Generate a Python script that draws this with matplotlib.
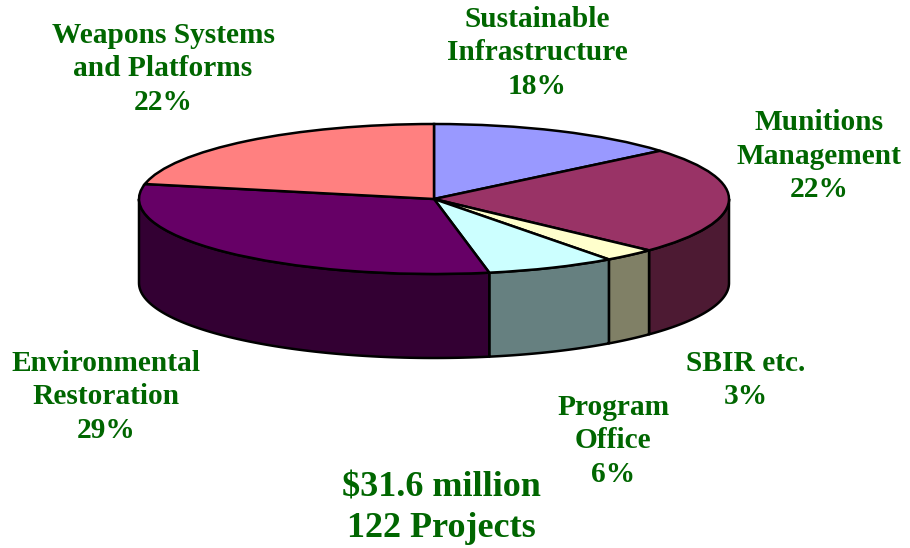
import matplotlib
matplotlib.use("Agg")
import matplotlib.pyplot as plt
import numpy as np

# slice sizes as drawn in the picture (the drawn wedges differ a bit from the printed %)
names = ["Sustainable\nInfrastructure", "Munitions\nManagement", "SBIR etc.",
         "Program\nOffice", "Environmental\nRestoration", "Weapons Systems\nand Platforms"]
printed = ["18%", "22%", "3%", "6%", "29%", "22%"]
drawn = [13.9, 23.1, 2.9, 7.1, 31.2, 21.8]
top_colors = ["#9999FF", "#993366", "#FFFFCC", "#CCFFFF", "#660066", "#FF8080"]
side_colors = ["#4D4D80", "#4D1A33", "#808066", "#668080", "#330033", "#804040"]
total_lines = "$31.6 million\n122 Projects"

# pie geometry in pixels of the 910x548 picture
W, H = 910, 548
cx, cy, rx, ry, depth = 434, 199, 295, 75, 84
label_xy = [(537, 53), (819, 156), (746, 380), (613, 441), (106, 397), (163, 69)]

fig = plt.figure(figsize=(W / 100, H / 100), dpi=100)
ax = fig.add_axes([0, 0, 1, 1])

# one data unit is rx pixels across and ry pixels up
h = depth / ry
edges = 360 * np.cumsum([0] + drawn) / sum(drawn)

# side walls, only the front half of the rim shows
for i in range(len(drawn)):
    a0 = max(edges[i], 90)
    a1 = min(edges[i + 1], 270)
    if a1 <= a0:
        continue
    t = np.radians(np.linspace(a0, a1, 80))
    x = np.sin(t)
    y = np.cos(t)
    ax.fill(np.r_[x, x[::-1]], np.r_[y, y[::-1] - h], facecolor=side_colors[i],
            edgecolor="black", linewidth=1.8, joinstyle="round", zorder=1)

# top face
ax.pie(drawn, colors=top_colors, startangle=90, counterclock=False, radius=1,
       wedgeprops={"edgecolor": "black", "linewidth": 1.8, "zorder": 2})

ax.set_aspect("auto")
ax.set_xlim(-cx / rx, (W - cx) / rx)
ax.set_ylim((cy - H) / ry, cy / ry)
ax.axis("off")

green = "#006600"
font = {"family": "Liberation Serif", "weight": "bold", "color": green,
        "ha": "center", "va": "center", "parse_math": False}

for name, pct, (lx, ly) in zip(names, printed, label_xy):
    fig.text(lx / W, 1 - ly / H, name + "\n" + pct, fontsize=21.2, linespacing=1.31,
             multialignment="center", **font)

fig.text(441 / W, 1 - 508 / H, total_lines, fontsize=26, linespacing=1.3,
         multialignment="center", **font)

fig.savefig("out.png", dpi=100, facecolor="white")
